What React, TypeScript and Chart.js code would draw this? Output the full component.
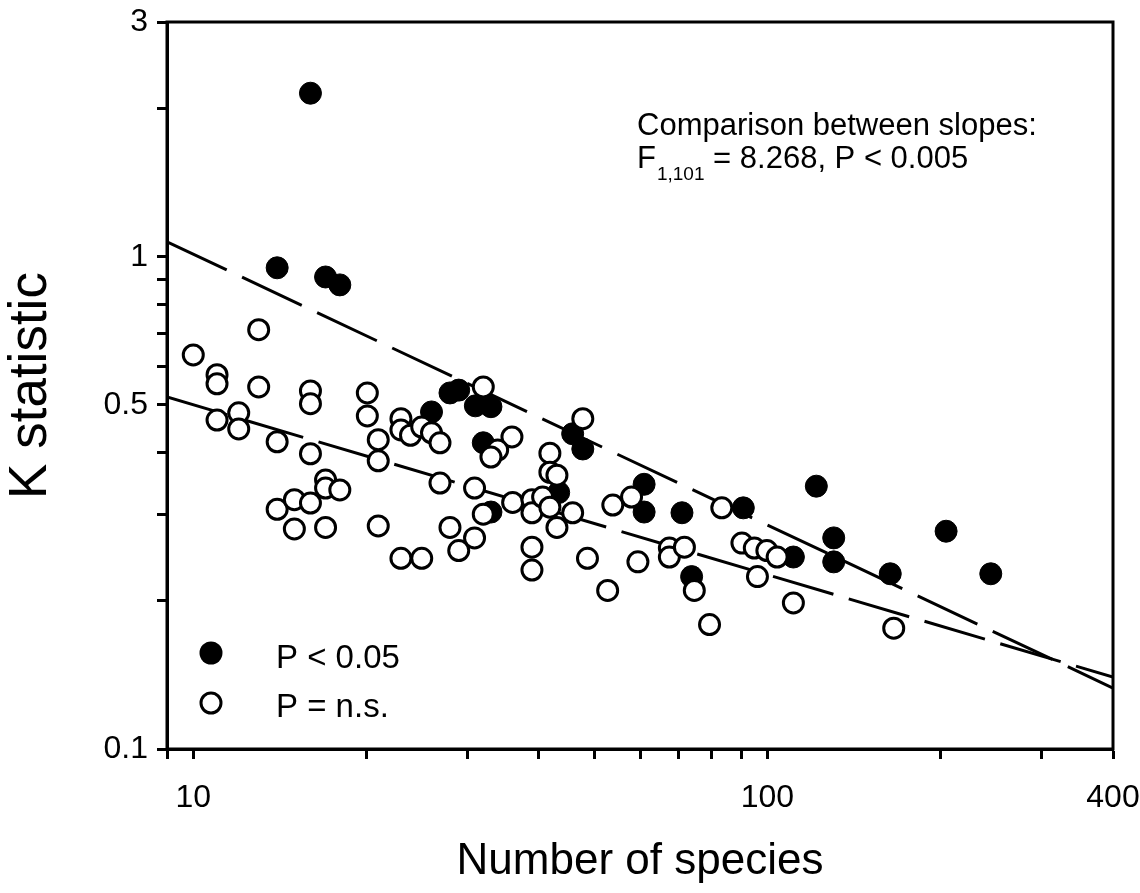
import React, { useEffect, useRef } from 'react';
import { Chart, registerables } from 'chart.js';

Chart.register(...registerables);

// Significant (P < 0.05) points
const sigX = [16.0, 14.0, 17.0, 18.0, 28.0, 29.0, 31.0, 33.0, 26.0, 32.0, 33.0, 43.3, 45.8, 47.7, 61, 61, 71, 90.8, 73.8, 111, 121.7, 130.5, 130.5, 163.7, 204.8, 245];
const sigY = [2.15, 0.95, 0.91, 0.877, 0.529, 0.536, 0.498, 0.496, 0.484, 0.419, 0.303, 0.332, 0.437, 0.407, 0.345, 0.303, 0.302, 0.309, 0.224, 0.2455, 0.342, 0.2685, 0.24, 0.227, 0.277, 0.227];

// Non-significant points
const nsX = [13.0, 10.0, 11.0, 11.0, 13.0, 16.0, 16.0, 11.0, 12.0, 12.0, 14.0, 16.0, 17.0, 17.0, 18.0, 14.0, 15.0, 16.0, 15.0, 17.0, 20.1, 20.1, 21.0, 21.0, 23.0, 23.0, 23.9, 25.0, 26.0, 26.9, 26.9, 21.0, 23.0, 25.0, 28.0, 29.0, 30.9, 30.9, 32.0, 32.0, 35.9, 33.9, 33.0, 41.8, 41.8, 43.0, 36.0, 38.9, 38.9, 40.6, 41.8, 43.0, 45.8, 38.9, 38.9, 48.6, 52.7, 47.7, 53.8, 58.0, 59.5, 67.5, 67.5, 71.7, 74.6, 79.3, 83.3, 90.3, 94.9, 99.8, 104, 96.1, 111, 166];
const nsY = [0.711, 0.632, 0.576, 0.552, 0.544, 0.534, 0.503, 0.466, 0.482, 0.447, 0.421, 0.398, 0.352, 0.339, 0.336, 0.307, 0.321, 0.316, 0.28, 0.282, 0.529, 0.475, 0.425, 0.385, 0.469, 0.445, 0.434, 0.451, 0.439, 0.419, 0.347, 0.284, 0.244, 0.244, 0.282, 0.253, 0.2685, 0.339, 0.544, 0.3, 0.4305, 0.405, 0.392, 0.399, 0.365, 0.36, 0.317, 0.321, 0.302, 0.325, 0.31, 0.282, 0.302, 0.257, 0.231, 0.244, 0.21, 0.469, 0.313, 0.325, 0.24, 0.256, 0.2455, 0.257, 0.21, 0.179, 0.309, 0.262, 0.256, 0.253, 0.2455, 0.224, 0.198, 0.176];

// Fitted regression lines (end points)
const fitX = [9, 400];
const sigFitY = [1.073, 0.133];
const nsFitY = [0.519, 0.14];

// Axis ticks
const xTickValues = [9, 10, 20, 30, 40, 50, 60, 70, 80, 90, 100, 200, 300, 400];
const xTickLabels = [10, 100, 400];
const yTickValues = [0.1, 0.2, 0.3, 0.4, 0.5, 0.6, 0.7, 0.8, 0.9, 1, 2, 3];
const yTickLabels = [0.1, 0.5, 1, 3];

const FONT = "'Liberation Sans', Arial, Helvetica, sans-serif";

const overlayPlugin = {
  id: 'overlay',
  afterDraw(chart: any) {
    const { ctx, chartArea: a } = chart;
    ctx.save();
    // frame
    ctx.strokeStyle = '#000';
    ctx.lineWidth = 3;
    ctx.strokeRect(a.left, a.top, a.right - a.left, a.bottom - a.top);

    // legend
    const lx = a.left + 44;
    const ly1 = a.bottom - 96;
    const ly2 = a.bottom - 46;
    ctx.fillStyle = '#000';
    ctx.beginPath();
    ctx.arc(lx, ly1, 11.5, 0, Math.PI * 2);
    ctx.fill();
    ctx.beginPath();
    ctx.arc(lx, ly2, 10, 0, Math.PI * 2);
    ctx.fillStyle = '#fff';
    ctx.fill();
    ctx.lineWidth = 3;
    ctx.strokeStyle = '#000';
    ctx.stroke();
    ctx.fillStyle = '#000';
    ctx.font = `33px ${FONT}`;
    ctx.textAlign = 'left';
    ctx.textBaseline = 'alphabetic';
    ctx.fillText('P < 0.05', a.left + 109, a.bottom - 81);
    ctx.fillText('P = n.s.', a.left + 109, a.bottom - 32);

    // annotation
    const tx = a.left + 470;
    ctx.font = `31px ${FONT}`;
    ctx.fillText('Comparison between slopes:', tx, a.top + 113);
    ctx.fillText('F', tx, a.top + 146);
    const fW = ctx.measureText('F').width;
    ctx.font = `19px ${FONT}`;
    ctx.fillText('1,101', tx + fW + 1, a.top + 158);
    const sW = ctx.measureText('1,101').width;
    ctx.font = `31px ${FONT}`;
    ctx.fillText(' = 8.268, P < 0.005', tx + fW + 1 + sW, a.top + 146);
    ctx.restore();
  },
};

export default function App() {
  const canvasRef = useRef<HTMLCanvasElement | null>(null);

  useEffect(() => {
    const canvas = canvasRef.current;
    if (!canvas) return;
    const openPts = nsX.map((x, i) => ({ x, y: nsY[i] }));
    const filledPts = sigX.map((x, i) => ({ x, y: sigY[i] }));
    const sigLine = fitX.map((x, i) => ({ x, y: sigFitY[i] }));
    const nsLine = fitX.map((x, i) => ({ x, y: nsFitY[i] }));

    const chart = new Chart(canvas, {
      type: 'scatter',
      data: {
        datasets: [
          {
            label: 'P = n.s.',
            data: openPts,
            order: 0,
            pointRadius: 10,
            pointBorderWidth: 3,
            pointBackgroundColor: '#fff',
            pointBorderColor: '#000',
            showLine: false,
          },
          {
            label: 'P < 0.05',
            data: filledPts,
            order: 1,
            pointRadius: 11,
            pointBorderWidth: 1,
            pointBackgroundColor: '#000',
            pointBorderColor: '#000',
            showLine: false,
          },
          {
            type: 'line',
            label: 'fit sig',
            data: sigLine,
            order: 2,
            borderColor: '#000',
            borderWidth: 3,
            borderDash: [66, 17],
            pointRadius: 0,
            fill: false,
          } as any,
          {
            type: 'line',
            label: 'fit ns',
            data: nsLine,
            order: 3,
            borderColor: '#000',
            borderWidth: 3,
            borderDash: [63, 16],
            pointRadius: 0,
            fill: false,
          } as any,
        ],
      },
      options: {
        responsive: false,
        animation: false,
        events: [],
        layout: { padding: { left: 0, right: 27, top: 22, bottom: 0 } },
        plugins: {
          legend: { display: false },
          tooltip: { enabled: false },
        },
        scales: {
          x: {
            type: 'logarithmic',
            position: 'bottom',
            min: 9,
            max: 400,
            afterFit: (s: any) => {
              s.height = 144;
              s.paddingLeft = 0;
              s.paddingRight = 0;
            },
            afterBuildTicks: (s: any) => {
              s.ticks = xTickValues.map((v) => ({ value: v }));
            },
            grid: {
              display: true,
              drawOnChartArea: false,
              drawTicks: true,
              tickLength: 10,
              tickWidth: 3,
              tickColor: '#000',
            },
            border: { display: true, color: '#000', width: 3 },
            ticks: {
              autoSkip: false,
              maxRotation: 0,
              padding: 20,
              color: '#000',
              font: { family: FONT, size: 32 },
              callback: (v: any) => (xTickLabels.includes(Number(v)) ? String(v) : ''),
            },
            title: {
              display: true,
              text: 'Number of species',
              color: '#000',
              font: { family: FONT, size: 44 },
              padding: { top: 0, bottom: 5 },
            },
          },
          y: {
            type: 'logarithmic',
            position: 'left',
            min: 0.1,
            max: 3,
            afterFit: (s: any) => {
              s.width = 167;
              s.paddingTop = 0;
              s.paddingBottom = 0;
            },
            afterBuildTicks: (s: any) => {
              s.ticks = yTickValues.map((v) => ({ value: v }));
            },
            grid: {
              display: true,
              drawOnChartArea: false,
              drawTicks: true,
              tickLength: 10,
              tickWidth: 3,
              tickColor: '#000',
            },
            border: { display: true, color: '#000', width: 3 },
            ticks: {
              autoSkip: false,
              padding: 9,
              color: '#000',
              font: { family: FONT, size: 32 },
              callback: (v: any) => (yTickLabels.includes(Number(v)) ? String(v) : ''),
            },
            title: {
              display: true,
              text: 'K statistic',
              color: '#000',
              font: { family: FONT, size: 53 },
              padding: { top: 0, bottom: 0 },
            },
          },
        },
      },
      plugins: [overlayPlugin],
    });

    return () => {
      chart.destroy();
    };
  }, []);

  return (
    <div style={{ position: 'absolute', left: 0, top: 0, width: 1140, height: 893, background: '#fff' }}>
      <canvas ref={canvasRef} width={1140} height={893} style={{ display: 'block' }} />
    </div>
  );
}
